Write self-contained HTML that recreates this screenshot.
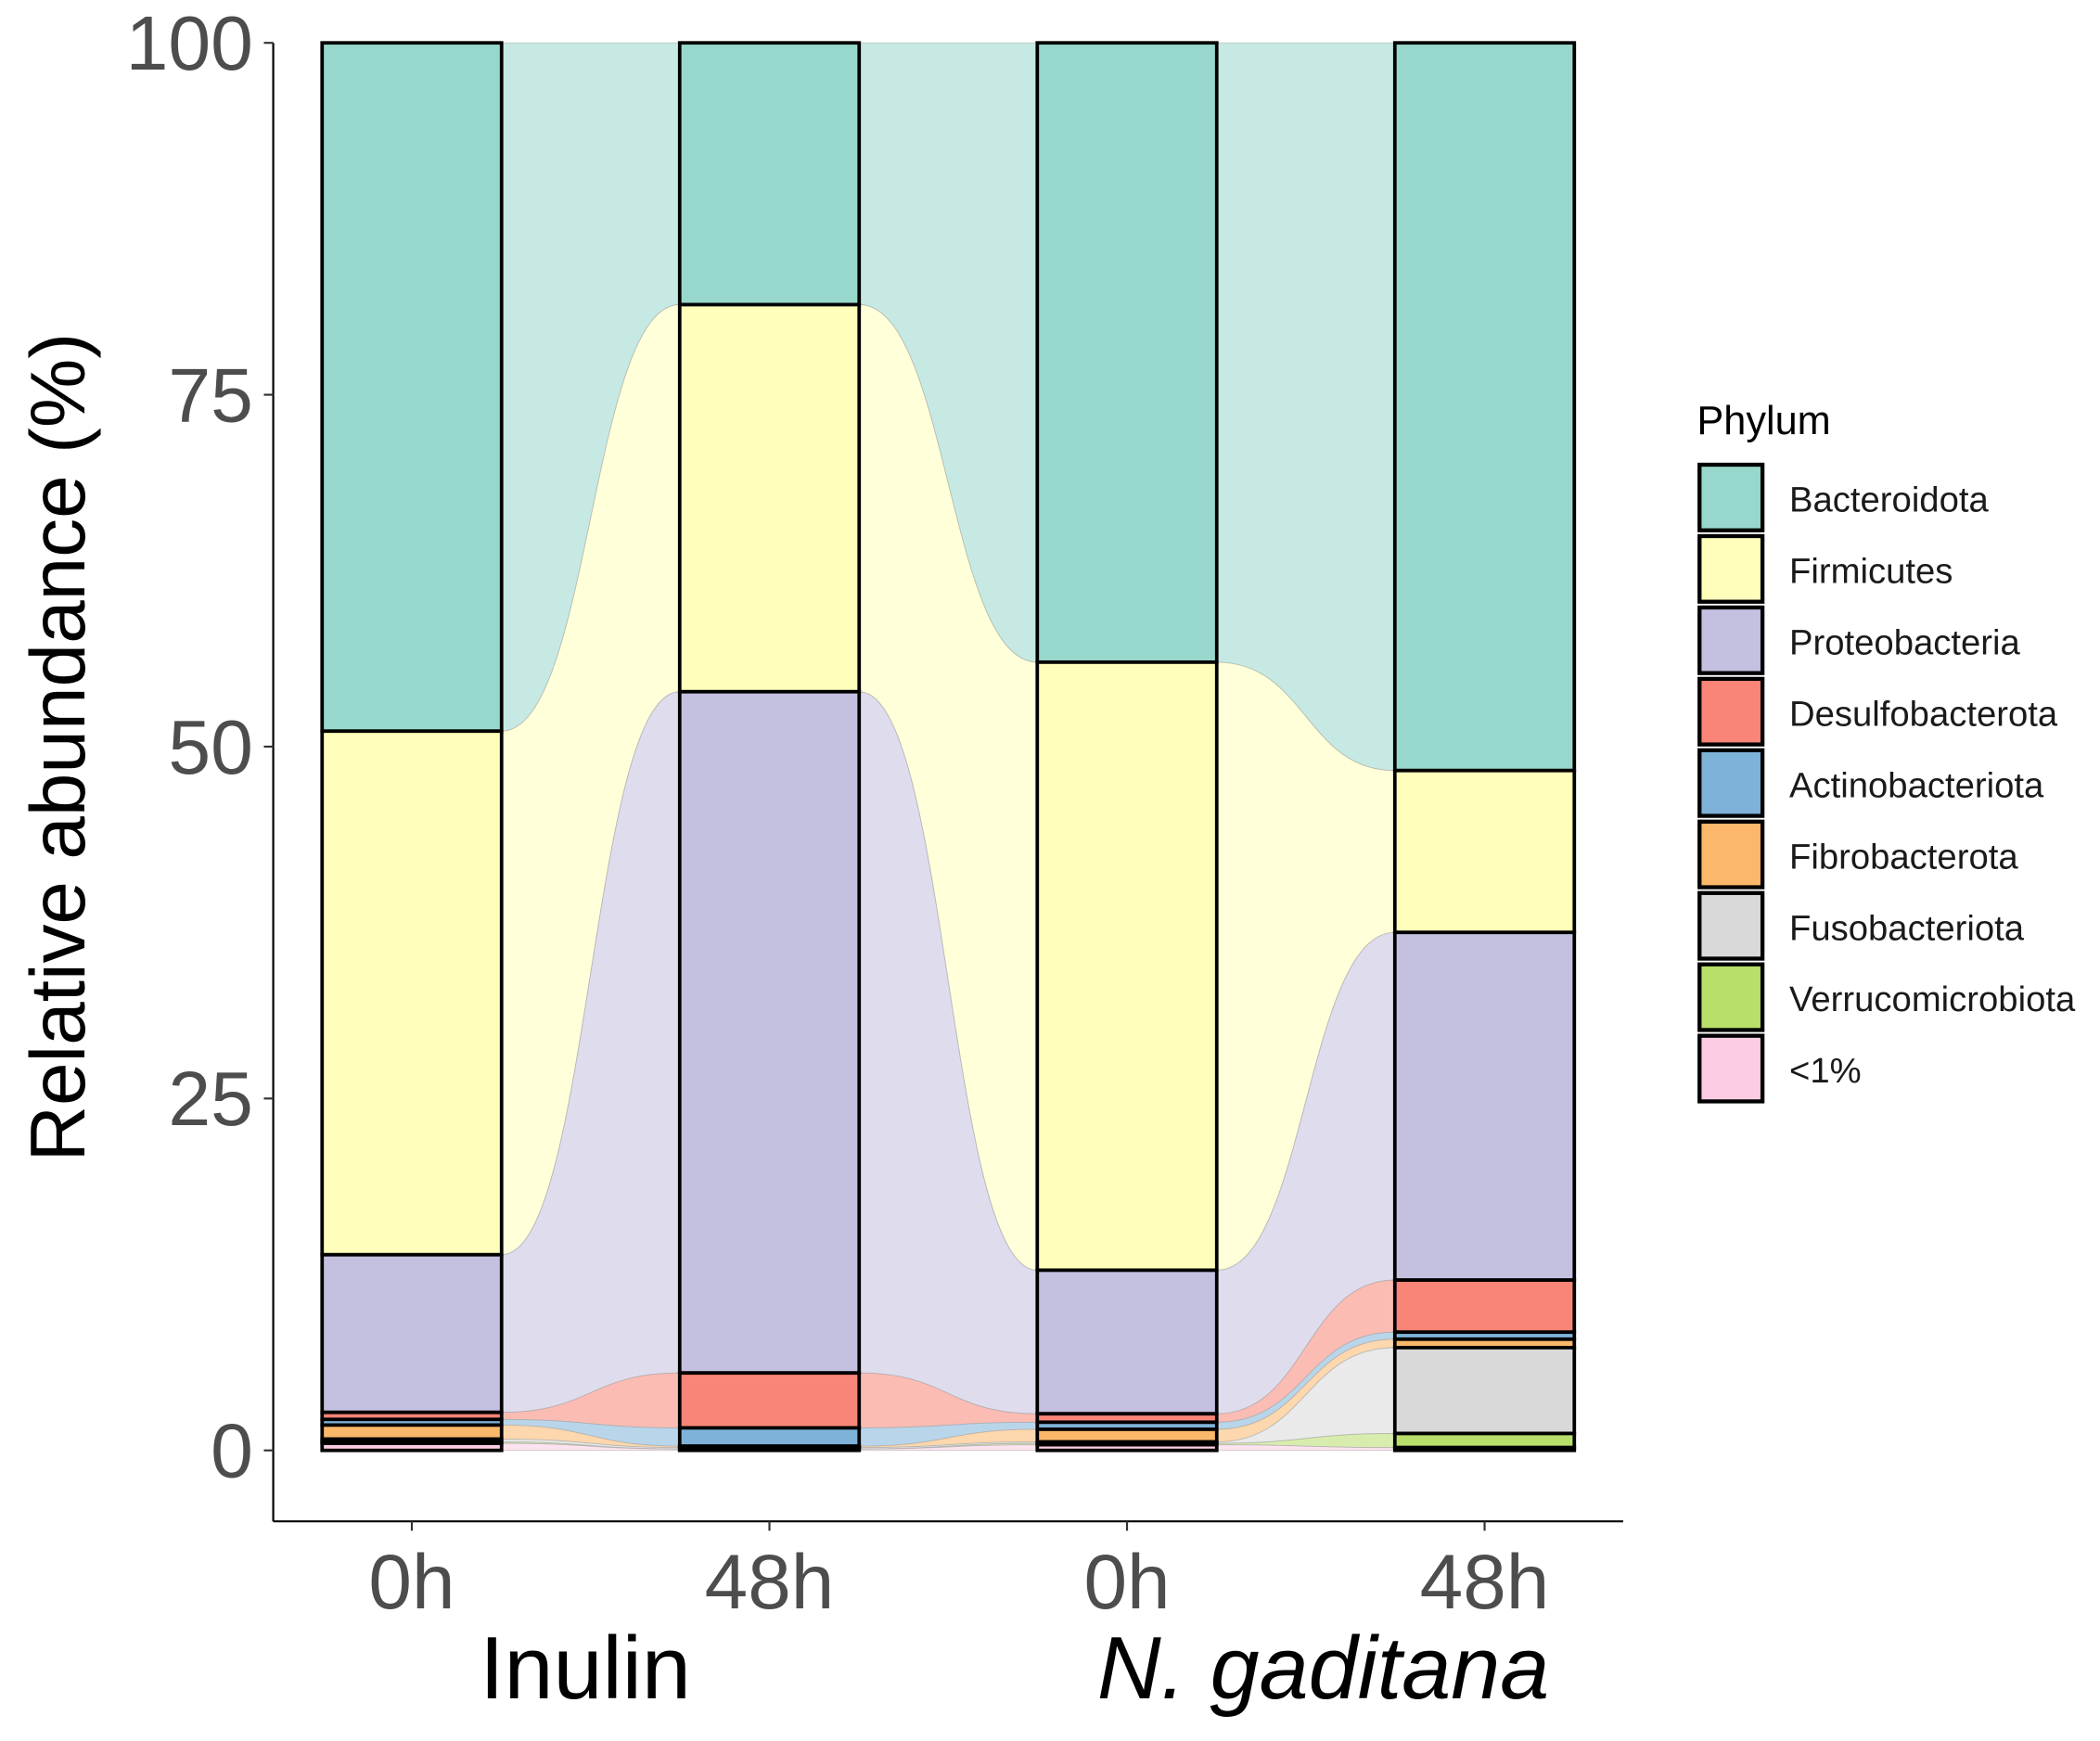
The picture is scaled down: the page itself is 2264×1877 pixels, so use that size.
<!DOCTYPE html>
<html><head><meta charset="utf-8">
<style>
html,body{margin:0;padding:0;background:#fff;}
svg{display:block;font-family:"Liberation Sans",Arial,sans-serif;}
</style></head>
<body>
<svg id="chart" width="2264" height="1877" viewBox="0 0 1568 1300" xmlns="http://www.w3.org/2000/svg">
<rect x="0" y="0" width="1568" height="1300" fill="#fff"/>
<g id="flows"></g>
<g id="bars"></g>
<g id="axes"></g>
<g id="legend"></g>
</svg>
<script>
const categories = ["0h","48h","0h","48h"];
const groups = ["Inulin","N. gaditana"];
const phyla = ["Bacteroidota","Firmicutes","Proteobacteria","Desulfobacterota","Actinobacteriota","Fibrobacterota","Fusobacteriota","Verrucomicrobiota","<1%"];
const colors = ["#98D8CC","#FFFFBB","#C4C0E0","#F88577","#7FB2D9","#FBB76A","#D9D9D9","#B8DF6A","#FCCCE4"];
const inulin0h  = [48.9,37.2,11.2,0.5,0.4,1.0,0.2,0.1,0.5];
const inulin48h = [18.6,27.5,48.4,3.9,1.3,0.1,0.1,0.0,0.1];
const ngad0h    = [44.0,43.2,10.2,0.6,0.5,0.9,0.1,0.1,0.4];
const ngad48h   = [51.7,11.5,24.7,3.7,0.5,0.6,6.1,1.0,0.2];
const yTicks = [0,25,50,75,100];

const series = [inulin0h,inulin48h,ngad0h,ngad48h];
const NS="http://www.w3.org/2000/svg";
function el(t,a,p){const e=document.createElementNS(NS,t);for(const k in a)e.setAttribute(k,a[k]);p.appendChild(e);return e;}
const y0=1083,y100=32;
function yScale(v){return y0-(y0-y100)*v/100;}
const barW=134, xStart=307.5, xStep=267;
function xCenter(i){return xStart+i*xStep;}
function stacks(vals){
  const tot=vals.reduce((a,b)=>a+b,0);
  const res=[];let cum=0;
  for(let j=vals.length-1;j>=0;j--){const b=cum;cum+=vals[j]*100/tot;res[j]=[b,cum];}
  return res;
}
const st=series.map(stacks);
const flows=document.getElementById('flows');
for(let i=0;i<series.length-1;i++){
  const xa=xCenter(i)+barW/2, xb=xCenter(i+1)-barW/2, xm=(xa+xb)/2;
  for(let j=0;j<phyla.length;j++){
    const [b1,t1]=st[i][j],[b2,t2]=st[i+1][j];
    const d=`M${xa},${yScale(t1)} C${xm},${yScale(t1)} ${xm},${yScale(t2)} ${xb},${yScale(t2)} L${xb},${yScale(b2)} C${xm},${yScale(b2)} ${xm},${yScale(b1)} ${xa},${yScale(b1)} Z`;
    const p=el('path',{d:d,fill:colors[j],'fill-opacity':0.55,stroke:'#aaa','stroke-width':0.6,'stroke-opacity':0.6},flows);
    
    
  }
}
const bars=document.getElementById('bars');
for(let i=0;i<series.length;i++){
  for(let j=0;j<phyla.length;j++){
    const [b,t]=st[i][j];
    const r=el('rect',{x:xCenter(i)-barW/2,y:yScale(t),width:barW,height:Math.max(0,yScale(b)-yScale(t)),fill:colors[j],stroke:'#000','stroke-width':2.6},bars);
    
    
  }
}
const axes=document.getElementById('axes');
el('line',{x1:204,y1:32,x2:204,y2:1136,stroke:'#000','stroke-width':1.5},axes);
el('line',{x1:204,y1:1136,x2:1212,y2:1136,stroke:'#000','stroke-width':1.5},axes);
yTicks.forEach(v=>{
  el('line',{x1:197,y1:yScale(v),x2:204,y2:yScale(v),stroke:'#333','stroke-width':1.5},axes);
  const t=el('text',{x:189,y:yScale(v)+20,'text-anchor':'end','font-size':57,fill:'#4d4d4d'},axes);
  t.textContent=v;
  
  
});
categories.forEach((c,i)=>{
  el('line',{x1:xCenter(i),y1:1136,x2:xCenter(i),y2:1143,stroke:'#333','stroke-width':1.5},axes);
  const t=el('text',{x:xCenter(i),y:1201,'text-anchor':'middle','font-size':58,fill:'#4d4d4d'},axes);
  t.textContent=c;
  
  
});
const g1=el('text',{x:437,y:1268,'text-anchor':'middle','font-size':66,fill:'#000'},axes);
g1.textContent=groups[0];


const g2=el('text',{x:988,y:1268,'text-anchor':'middle','font-size':66,fill:'#000','font-style':'italic'},axes);
g2.textContent=groups[1];


const yt=el('text',{x:0,y:0,'text-anchor':'middle','font-size':58,fill:'#000',transform:'translate(63,558) rotate(-90)'},axes);
yt.textContent='Relative abundance (%)';


const lg=document.getElementById('legend');
const lt=el('text',{x:1267,y:324,'font-size':30,fill:'#000'},lg);
lt.textContent='Phylum';


phyla.forEach((p,j)=>{
  const y=347+j*53.3;
  const r=el('rect',{x:1269,y:y,width:47,height:49,fill:colors[j],stroke:'#000','stroke-width':3},lg);
  
  
  const t=el('text',{x:1336,y:y+35,'font-size':26.5,fill:'#1a1a1a'},lg);
  t.textContent=p;
  
  
});
</script>
</body></html>
